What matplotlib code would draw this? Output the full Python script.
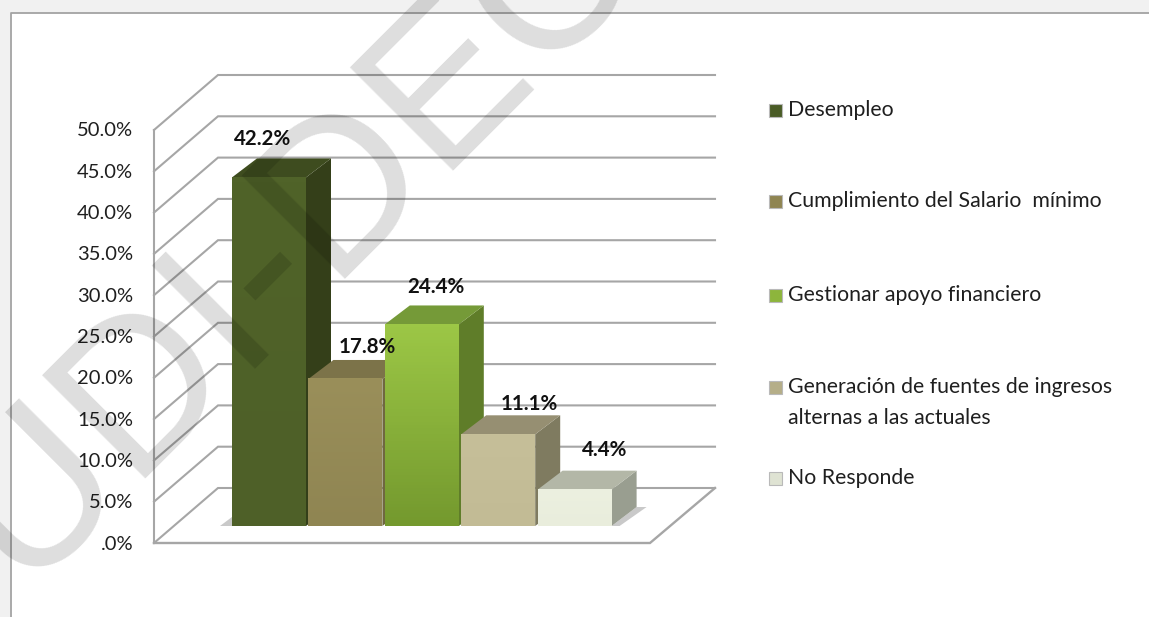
#!/usr/bin/env python3
"""Recreate the 3D-look column chart with the diagonal watermark."""

import matplotlib
matplotlib.use("Agg")
import matplotlib.pyplot as plt
import numpy as np
from matplotlib.colors import LinearSegmentedColormap
from matplotlib.patches import Polygon, Rectangle

# Chart data
categories = [
    "Desempleo",
    "Cumplimiento del Salario  mínimo",
    "Gestionar apoyo financiero",
    "Generación de fuentes de ingresos\nalternas a las actuales",
    "No Responde",
]
values = [42.2, 17.8, 24.4, 11.1, 4.4]
tick_values = [0, 5, 10, 15, 20, 25, 30, 35, 40, 45, 50]
tick_labels = [".0%", "5.0%", "10.0%", "15.0%", "20.0%", "25.0%",
               "30.0%", "35.0%", "40.0%", "45.0%", "50.0%"]

# (front top, front bottom, side, top face)
bar_colors = [
    ("#506329", "#4e6028", "#343f19", "#3e4c1f"),
    ("#9a8f5a", "#8f8552", "#6f683f", "#7c7349"),
    ("#9cc746", "#74992e", "#5f7d29", "#759a38"),
    ("#c6bf99", "#c2bb95", "#7f7b60", "#968f72"),
    ("#ecf0e0", "#e9eddc", "#999e90", "#b3b7a7"),
]
legend_colors = ["#4a5c26", "#8f8552", "#8db53c", "#b5ae88", "#dfe3d3"]

# Layout of the fake 3D box, in pixels
W, H = 1149, 617
WALL_X, WALL_BOTTOM = 154, 543
BACK_DX, BACK_DY = 64, -55
FLOOR_RIGHT = 650
PX_PER_UNIT = 8.26
BAR_LEFT, BAR_STEP, BAR_WIDTH, BAR_BOTTOM = 232, 76.4, 74, 526
DEPTH_DX, DEPTH_DY = 25, -19
LABEL_SHIFT = [(-6, -38), (22, -32), (14, -37), (31, -30), (30, -40)]
LEGEND_Y = [110, 201, 295, 387, 478]
LEGEND_LINE_STEP = 31

GRID = "#a6a6a6"
TEXT = "#1f1f1f"

plt.rcParams["font.family"] = ["Lato", "DejaVu Sans"]

fig = plt.figure(figsize=(W / 100, H / 100), dpi=100)
ax = fig.add_axes([0, 0, 1, 1])
ax.set_xlim(0, W)
ax.set_ylim(H, 0)
ax.axis("off")

# Page strip and outer frame
ax.add_patch(Rectangle((0, 0), W, 13, fc="#f1f1f1", ec="none", zorder=0))
ax.add_patch(Rectangle((0, 0), 10, H, fc="#f1f1f1", ec="none", zorder=0))
ax.plot([11, 11, W], [H, 13, 13], color="#a3a3a3", lw=1.3, zorder=1)


def wall_y(v):
    return WALL_BOTTOM - v * PX_PER_UNIT


# Walls and gridlines
for v in tick_values:
    y = wall_y(v)
    xs = [WALL_X, WALL_X + BACK_DX, 715]
    ys = [y, y + BACK_DY, y + BACK_DY]
    ax.plot(xs, ys, color=GRID, lw=1.5, solid_joinstyle="miter", zorder=2)
ax.plot([WALL_X, WALL_X], [wall_y(0), wall_y(50)], color=GRID, lw=1.5, zorder=2)

# Floor
ax.plot([WALL_X, FLOOR_RIGHT, 715], [WALL_BOTTOM, WALL_BOTTOM, WALL_BOTTOM + BACK_DY],
        color=GRID, lw=1.7, solid_joinstyle="miter", zorder=2)

# Tick labels
for v, label in zip(tick_values, tick_labels):
    ax.text(133, wall_y(v) + 1, label, ha="right", va="center", fontsize=14.5,
            color=TEXT, zorder=6)

# Soft shadow of the last column on the floor
last_x = BAR_LEFT + BAR_STEP * (len(values) - 1) + BAR_WIDTH
ax.add_patch(Polygon(
    [(last_x, BAR_BOTTOM), (last_x + DEPTH_DX, BAR_BOTTOM + DEPTH_DY),
     (last_x + DEPTH_DX + 10, BAR_BOTTOM + DEPTH_DY),
     (last_x + 8, BAR_BOTTOM)],
    fc="#c9c9c9", ec="none", zorder=2.5))
ax.add_patch(Polygon(
    [(BAR_LEFT - 12, BAR_BOTTOM), (BAR_LEFT, BAR_BOTTOM - 9), (BAR_LEFT, BAR_BOTTOM)],
    fc="#c9c9c9", ec="none", zorder=2.5))

# Columns
for i, (val, cols) in enumerate(zip(values, bar_colors)):
    x0 = BAR_LEFT + BAR_STEP * i
    x1 = x0 + BAR_WIDTH
    top = BAR_BOTTOM - val * PX_PER_UNIT
    z = 3 + 0.1 * i
    front_top, front_bottom, side, roof = cols

    ax.add_patch(Polygon(
        [(x1, top), (x1 + DEPTH_DX, top + DEPTH_DY),
         (x1 + DEPTH_DX, BAR_BOTTOM + DEPTH_DY), (x1, BAR_BOTTOM)],
        fc=side, ec="none", zorder=z))
    ax.add_patch(Polygon(
        [(x0, top), (x0 + DEPTH_DX, top + DEPTH_DY),
         (x1 + DEPTH_DX, top + DEPTH_DY), (x1, top)],
        fc=roof, ec="none", zorder=z))

    cmap = LinearSegmentedColormap.from_list(f"bar{i}", [front_top, front_bottom])
    ax.imshow(np.linspace(0, 1, 64).reshape(-1, 1), cmap=cmap, aspect="auto",
              extent=(x0, x1, BAR_BOTTOM, top), zorder=z + 0.01)
ax.set_xlim(0, W)
ax.set_ylim(H, 0)

# Value labels
for i, (val, shift) in enumerate(zip(values, LABEL_SHIFT)):
    cx = BAR_LEFT + BAR_STEP * i + BAR_WIDTH / 2
    top = BAR_BOTTOM - val * PX_PER_UNIT
    ax.text(cx + shift[0], top + shift[1], f"{val:.1f}%", ha="center", va="center",
            fontsize=14.8, fontweight="bold", color="#111111", zorder=6)

# Legend
for y, label, col in zip(LEGEND_Y, categories, legend_colors):
    ax.add_patch(Rectangle((768.5, y - 6.5), 13, 13, fc=col, ec="#b9b9b9", lw=0.8, zorder=5))
    for k, line in enumerate(label.split("\n")):
        ax.text(788, y + k * LEGEND_LINE_STEP, line, ha="left", va="center",
                fontsize=15.3, color=TEXT, zorder=6)

# Watermark
ax.text(21, 587, "UDI-DEC", rotation=45, rotation_mode="anchor", ha="left", va="baseline",
        fontsize=152.6, family="Liberation Sans", color="black", alpha=0.135, zorder=10)

fig.savefig("out.png", dpi=100)
plt.close(fig)
